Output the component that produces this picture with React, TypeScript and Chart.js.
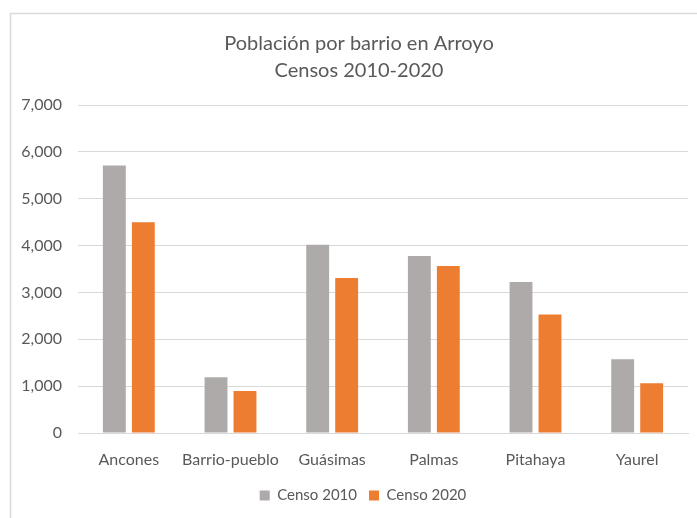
import React, { useEffect, useRef } from "react";
import { Chart, registerables } from "chart.js";

Chart.register(...registerables);

const categories = ["Ancones", "Barrio-pueblo", "Guásimas", "Palmas", "Pitahaya", "Yaurel"];
const censo2010 = [5710, 1190, 4020, 3775, 3222, 1573];
const censo2020 = [4497, 899, 3307, 3562, 2529, 1063];
const seriesLabels = ["Censo 2010", "Censo 2020"];
const titleLines = ["Población por barrio en Arroyo", "Censos 2010-2020"];

const FONT = "Lato, 'Open Sans', sans-serif";
const TEXT = "#595959";

const framePlugin = {
  id: "frame",
  beforeDraw(chart: any) {
    const ctx = chart.ctx;
    ctx.save();
    ctx.fillStyle = "#ffffff";
    ctx.fillRect(0, 0, chart.width, chart.height);
    ctx.strokeStyle = "#D9D9D9";
    ctx.lineWidth = 1.5;
    ctx.strokeRect(10.5, 13.5, chart.width + 20, chart.height + 20);
    ctx.restore();
  },
  afterLayout(chart: any) {
    if (chart.titleBlock) {
      chart.titleBlock.left += 10;
      chart.titleBlock.right += 10;
    }
    if (chart.legend) {
      chart.legend.left += 14;
      chart.legend.right += 14;
    }
  },
};

export default function App() {
  const ref = useRef<HTMLCanvasElement | null>(null);
  useEffect(() => {
    if (!ref.current) return;
    const chart = new Chart(ref.current, {
      type: "bar",
      data: {
        labels: categories,
        datasets: [
          {
            label: seriesLabels[0],
            data: censo2010,
            backgroundColor: "#AEAAAA",
            categoryPercentage: 0.57,
            barPercentage: 0.79,
          },
          {
            label: seriesLabels[1],
            data: censo2020,
            backgroundColor: "#ED7D31",
            categoryPercentage: 0.57,
            barPercentage: 0.79,
          },
        ],
      },
      plugins: [framePlugin],
      options: {
        animation: false,
        responsive: false,
        layout: { padding: { left: 10, right: 9, top: 0, bottom: 5 } },
        plugins: {
          title: {
            display: true,
            text: titleLines,
            color: TEXT,
            font: { family: FONT, size: 20, weight: "normal", lineHeight: 1.35 },
            padding: { top: 30, bottom: 21 },
          },
          legend: {
            position: "bottom",
            labels: {
              color: TEXT,
              font: { family: FONT, size: 15 },
              boxWidth: 10,
              boxHeight: 10,
              padding: 12,
            },
          },
          tooltip: { enabled: false },
        },
        scales: {
          x: {
            grid: { display: false },
            border: { display: true, color: "#D9D9D9", width: 1 },
            ticks: { color: TEXT, font: { family: FONT, size: 16 }, padding: 9, maxRotation: 0 },
            afterFit: (scale: any) => {
              scale.height = 43;
            },
          },
          y: {
            min: 0,
            max: 7000,
            ticks: {
              stepSize: 1000,
              color: TEXT,
              font: { family: FONT, size: 16 },
              padding: 16,
              callback: (v: any) => Number(v).toLocaleString("en-US"),
            },
            grid: { color: "#D9D9D9", lineWidth: 1, drawTicks: false },
            border: { display: false },
            afterFit: (scale: any) => {
              scale.width = 68;
            },
          },
        },
      },
    });
    return () => chart.destroy();
  }, []);
  return (
    <div style={{ position: "fixed", left: 0, top: 0, width: 697, height: 518, background: "#fff" }}>
      <canvas ref={ref} width={697} height={518} style={{ width: 697, height: 518, display: "block" }} />
    </div>
  );
}
